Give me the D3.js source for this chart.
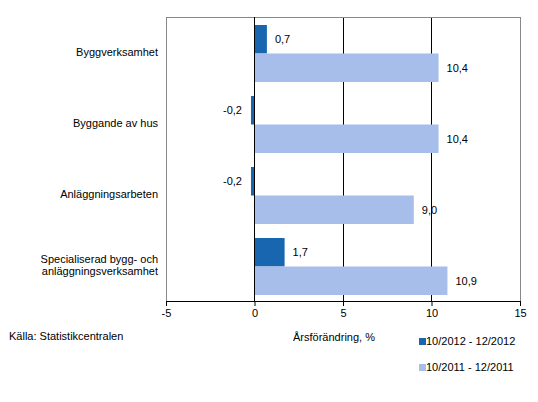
<!DOCTYPE html>
<html><head><meta charset="utf-8">
<script src="https://cdn.jsdelivr.net/npm/d3@7"></script>
<style>body{margin:0;background:#fff}svg{display:block;font-family:"Liberation Sans",Arial,sans-serif}</style>
</head><body>
<svg id="c" width="538" height="402"></svg>
<script>
const categories = [["Byggverksamhet"],["Byggande av hus"],["Anläggningsarbeten"],["Specialiserad bygg- och","anläggningsverksamhet"]];
const series2012 = [0.7, -0.2, -0.2, 1.7];
const series2011 = [10.4, 10.4, 9.0, 10.9];
const seriesNames = ["10/2012 - 12/2012", "10/2011 - 12/2011"];
const ticks = [-5, 0, 5, 10, 15];
const colors = ["#1865b0", "#a7bdea"];

const svg = d3.select("#c");
const L = 166, R = 520, T = 17, B = 301;
const x = d3.scaleLinear().domain([-5, 15]).range([L, R]);
const y = d3.scaleBand().domain(d3.range(categories.length)).range([T, B]).paddingInner(0).paddingOuter(0);
const inner = d3.scaleBand().domain([0,1]).range([8, y.bandwidth()-6]);
const fmt = v => d3.format(".1f")(v).replace(".", ",").replace("−","-");

// gridlines
svg.append("g").selectAll("line").data([5,10]).join("line")
  .attr("x1", d=>x(d)).attr("x2", d=>x(d)).attr("y1", T).attr("y2", B)
  .attr("stroke", "#000").attr("stroke-width", 1).attr("shape-rendering","crispEdges");

// plot border
svg.append("path").attr("d", `M${L+0.5},${B}V${T+0.5}H${R+0.5}V${B}`)
  .attr("fill","none").attr("stroke","#888").attr("shape-rendering","crispEdges");

const data = categories.map((c,i)=>({i, vals:[series2012[i], series2011[i]]}));
const g = svg.append("g").selectAll("g").data(data).join("g");
g.selectAll("rect").data(d=>d.vals.map((v,k)=>({v,k,i:d.i}))).join("rect")
  .attr("x", d=>x(Math.min(0,d.v))).attr("width", d=>Math.abs(x(d.v)-x(0)))
  .attr("y", d=>y(d.i)+inner(d.k)).attr("height", inner.bandwidth())
  .attr("fill", d=>colors[d.k]);
g.selectAll("text.v").data(d=>d.vals.map((v,k)=>({v,k,i:d.i}))).join("text")
  .attr("class","v")
  .attr("x", d=> d.v<0 ? x(d.v)-9 : x(d.v)+8)
  .attr("text-anchor", d=> d.v<0 ? "end" : "start")
  .attr("y", d=>y(d.i)+inner(d.k)+inner.bandwidth()/2)
  .attr("dy","0.35em").attr("font-size", 11).attr("fill","#000")
  .text(d=>fmt(d.v));

// zero line
svg.append("line").attr("x1", x(0)).attr("x2", x(0)).attr("y1", T).attr("y2", B)
  .attr("stroke","#000").attr("shape-rendering","crispEdges");

// category labels
svg.append("g").selectAll("text").data(categories).join("text")
  .attr("x", 158).attr("text-anchor","end").attr("font-size", 11)
  .attr("y", (d,i)=>y(i)+y.bandwidth()/2 - (d.length-1)*6)
  .each(function(d){
    d3.select(this).selectAll("tspan").data(d).join("tspan")
      .attr("x",158).attr("dy",(t,j)=> j===0 ? "0.35em" : "12").text(t=>t);
  });

// x axis
const ax = svg.append("g").attr("transform", `translate(0,${B})`)
  .call(d3.axisBottom(x).tickValues(ticks).tickSize(5).tickPadding(3).tickFormat(d=>String(d)));
ax.select(".domain").attr("stroke","#000").attr("d", `M${L},0.5H${R+1}`);
ax.selectAll(".tick line").attr("stroke","#000");
ax.selectAll("text").attr("font-size", 11).attr("font-family","Liberation Sans, Arial, sans-serif").attr("fill","#000");

svg.append("text").attr("x", 334).attr("y", 337).attr("dy","0.35em").attr("text-anchor","middle")
  .attr("font-size", 11).text("Årsförändring, %");
svg.append("text").attr("x", 9).attr("y", 336).attr("dy","0.35em")
  .attr("font-size", 11).text("Källa: Statistikcentralen");

// legend
const lg = svg.append("g").selectAll("g").data(seriesNames).join("g")
  .attr("transform", (d,i)=>`translate(419,${341 + i*26})`);
lg.append("rect").attr("x",0).attr("y",-3).attr("width",7).attr("height",7).attr("fill",(d,i)=>colors[i]);
lg.append("text").attr("x",7).attr("y",0).attr("dy","0.35em").attr("font-size",11).text(d=>d);
</script>
</body></html>
